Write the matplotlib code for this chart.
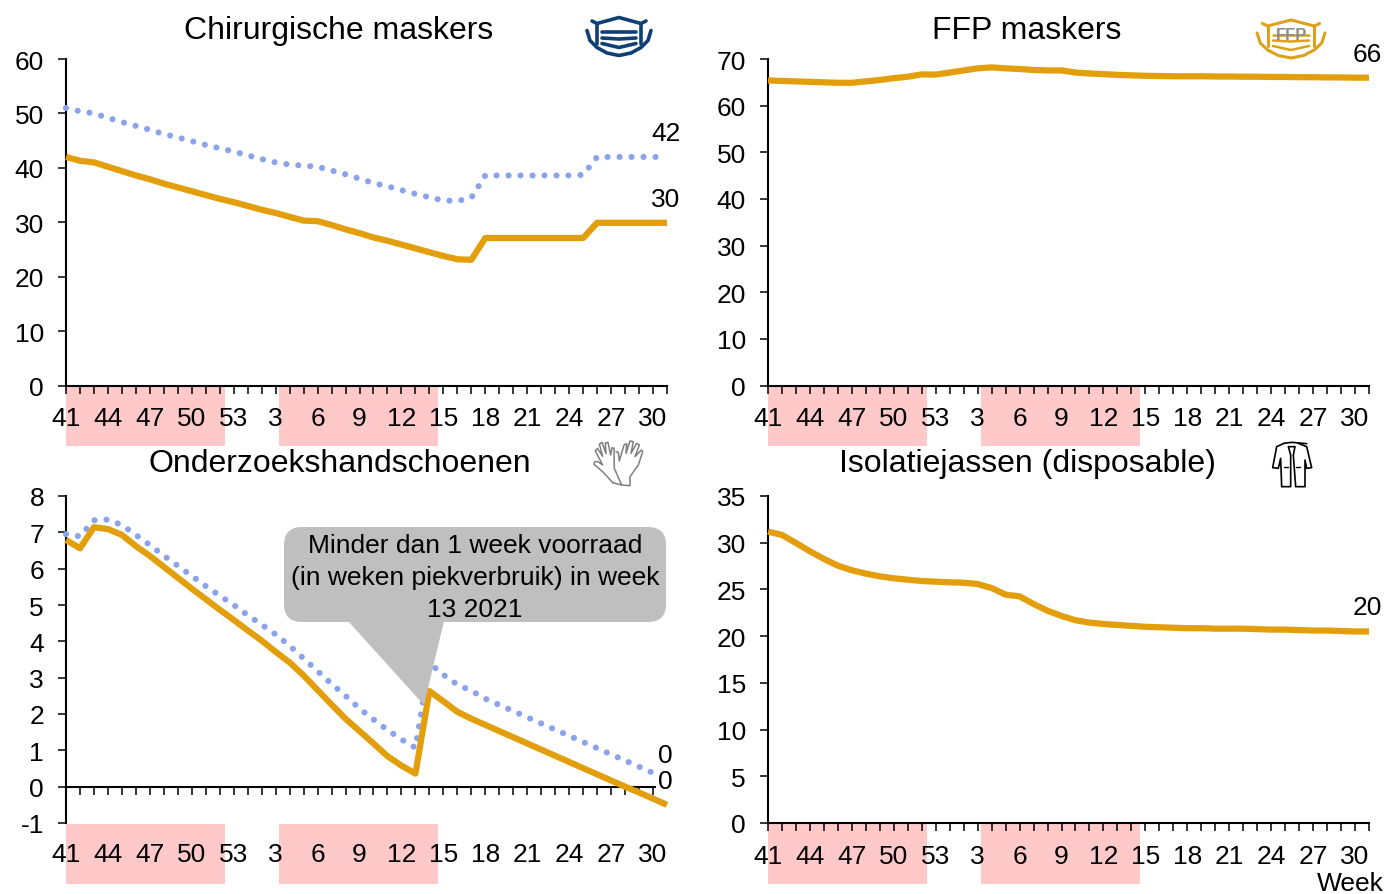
import matplotlib
matplotlib.use("Agg")
import matplotlib.pyplot as plt
from matplotlib.lines import Line2D
from matplotlib.patches import Rectangle, Polygon, FancyBboxPatch
from matplotlib.transforms import blended_transform_factory

plt.rcParams['font.family'] = ['Liberation Sans', 'DejaVu Sans']
plt.rcParams['axes.unicode_minus'] = False

W, H = 1388, 895

weeks = list(range(41, 54)) + list(range(1, 32))
tick_every = 3
pink_spans = [(0, 11.37), (15.24, 26.6)]

chir_actual = [42, 41.3, 41, 40.2, 39.4, 38.6, 37.9, 37.1, 36.4, 35.7, 35, 34.3, 33.7, 33, 32.3, 31.7,
               31, 30.3, 30.2, 29.5, 28.7, 28, 27.2, 26.6, 25.9, 25.2, 24.5, 23.8, 23.2, 23.1, 27.1,
               27.1, 27.1, 27.1, 27.1, 27.1, 27.1, 27.1, 29.9, 29.9, 29.9, 29.9, 29.9, 29.9]
chir_scen = [51, 50.4, 50, 49.2, 48.4, 47.7, 47, 46.2, 45.6, 44.9, 44.2, 43.6, 43, 42.3, 41.6, 41,
             40.6, 40.4, 40.2, 39.5, 38.8, 38, 37.2, 36.6, 35.9, 35.2, 34.6, 34, 33.9, 34.5, 38.6,
             38.6, 38.6, 38.6, 38.6, 38.6, 38.6, 38.7, 42, 42, 42, 42, 42, 42]
ffp_actual = [65.4, 65.3, 65.2, 65.1, 65.0, 64.9, 64.9, 65.2, 65.5, 65.9, 66.2, 66.7, 66.65, 67.1, 67.55,
              68.0, 68.2, 68.0, 67.85, 67.65, 67.55, 67.55, 67.1, 66.9, 66.75, 66.6, 66.5, 66.4, 66.35,
              66.3, 66.3, 66.3, 66.25, 66.25, 66.2, 66.2, 66.15, 66.15, 66.1, 66.1, 66.05, 66.05, 66.0, 66.0]
glove_actual = [6.79, 6.56, 7.14, 7.09, 6.93, 6.62, 6.35, 6.05, 5.75, 5.45, 5.16, 4.87, 4.59, 4.30, 4.02,
                3.71, 3.42, 3.06, 2.66, 2.26, 1.87, 1.53, 1.19, 0.84, 0.58, 0.36, 2.63, 2.35, 2.06, 1.87,
                1.70, 1.53, 1.36, 1.19, 1.02, 0.85, 0.68, 0.51, 0.34, 0.17, 0.0, -0.16, -0.33, -0.5]
glove_scen = [6.95, 6.89, 7.33, 7.35, 7.2, 6.93, 6.65, 6.36, 6.08, 5.8, 5.52, 5.26, 5.0, 4.72, 4.46, 4.19,
              3.88, 3.53, 3.18, 2.83, 2.5, 2.15, 1.85, 1.56, 1.30, 1.07, 3.4, 3.08, 2.81, 2.64,
              2.42, 2.25, 2.08, 1.91, 1.74, 1.57, 1.4, 1.23, 1.06, 0.89, 0.72, 0.55, 0.38, 0.21]
iso_actual = [31.18, 30.83, 29.97, 29.08, 28.26, 27.54, 27.05, 26.69, 26.4, 26.19, 26.04, 25.9, 25.83, 25.76,
              25.72, 25.58, 25.15, 24.44, 24.26, 23.44, 22.72, 22.16, 21.7, 21.45, 21.3, 21.2, 21.1, 21.0,
              20.95, 20.9, 20.85, 20.85, 20.8, 20.8, 20.8, 20.75, 20.7, 20.7, 20.65, 20.6, 20.6, 20.55, 20.5, 20.5]

callout_lines = ["Minder dan 1 week voorraad", "(in weken piekverbruik) in week", "13 2021"]

ORANGE = '#E39E0C'
BLUE = '#8BA2EC'
PINK = '#FFC9C9'
GRAY = '#BFBFBF'
NAVY = '#0F3F73'
GOLD = '#DDA11A'
FS = 19

fig = plt.figure(figsize=(W / 100, H / 100), dpi=100, facecolor='white')


def make_axes(x0, x1, ytop, ybot, ylim, yticks, xpad, actual, scen, labels, label_boxes=False):
    ax = fig.add_axes([x0 / W, 1 - ybot / H, (x1 - x0) / W, (ybot - ytop) / H])
    ax.patch.set_alpha(0)
    n = len(actual)
    idx = list(range(n))
    ax.set_xlim(0, n - 1)
    ax.set_ylim(*ylim)
    for s in ('top', 'right'):
        ax.spines[s].set_visible(False)
    ax.spines['left'].set_linewidth(1.5)
    ax.spines['bottom'].set_linewidth(1.5)
    ax.spines['bottom'].set_position(('data', 0))
    ax.set_yticks(yticks)
    ax.tick_params(axis='y', direction='out', length=5.8, width=1.1, labelsize=FS, pad=10.0)
    ax.set_xticks(idx)
    ax.set_xticklabels([str(w) if i % tick_every == 0 else '' for i, w in enumerate(weeks)])
    ax.tick_params(axis='x', direction='out', length=5.8, width=1.1, labelsize=FS, pad=xpad)
    tr = blended_transform_factory(ax.transData, ax.transAxes)
    h = ybot - ytop
    for a, b in pink_spans:
        ax.add_patch(Rectangle((a, -60.5 / h), b - a, 59.5 / h, transform=tr, facecolor=PINK,
                               edgecolor='none', clip_on=False, zorder=0.5))
    if scen is not None:
        ax.plot(idx, scen, color=BLUE, lw=4.4, linestyle=(0, (0.01, 1.95)),
                dash_capstyle='round', clip_on=False, zorder=3)
    ax.plot(idx, actual, color=ORANGE, lw=4.5, solid_capstyle='butt', solid_joinstyle='round',
            clip_on=False, zorder=4)
    series = [actual] if scen is None else [scen, actual]
    for s, lab in zip(series, labels):
        bbox = dict(facecolor='white', edgecolor='none', pad=1.5) if label_boxes else None
        ax.annotate(lab, xy=(n - 1, s[-1]), xytext=(-1, 17.3), textcoords='offset points',
                    ha='center', va='center', fontsize=FS, zorder=6, bbox=bbox, annotation_clip=False)
    return ax


ax1 = make_axes(66, 667, 60, 386.5, (0, 60), range(0, 61, 10), 9.0, chir_actual, chir_scen, ['42', '30'])
ax2 = make_axes(768, 1369, 60, 386.5, (0, 70), range(0, 71, 10), 9.0, ffp_actual, None, ['66'])
ax3 = make_axes(66, 667, 497, 824, (-1, 8), range(-1, 9), 34.0, glove_actual, glove_scen, ['0', '0'], label_boxes=True)
ax4 = make_axes(768, 1369, 497, 824, (0, 35), range(0, 36, 5), 9.0, iso_actual, None, ['20'])

titles = [("Chirurgische maskers", 339, 31), ("FFP maskers", 1027, 31),
          ("Onderzoekshandschoenen", 340, 464), ("Isolatiejassen (disposable)", 1027, 464)]
for t, x, y in titles:
    fig.text(x / W, 1 - y / H, t, fontsize=23, ha='center', va='center')
fig.text(1350 / W, 1 - 884.5 / H, "Week", fontsize=FS, ha='center', va='center')

# callout
box = FancyBboxPatch((284 + 18, H - 623 + 18), 382 - 36, 95 - 36, boxstyle="round,pad=18,rounding_size=18",
                     transform=None, facecolor=GRAY, edgecolor='none', clip_on=False, zorder=5)
fig.add_artist(box)
tip = Polygon([(348, H - 622), (444, H - 622), (424, H - 706)], closed=True, transform=None,
              facecolor=GRAY, edgecolor='none', zorder=5)
fig.add_artist(tip)
for line, y in zip(callout_lines, (546, 578, 610)):
    fig.text(475 / W, 1 - y / H, line, fontsize=FS, ha='center', va='center', zorder=6)


def poly(points, color, lw, ox=0.0, oy=0.0, sx=1.0, sy=1.0):
    xs = [(ox + sx * p[0]) / W for p in points]
    ys = [1 - (oy + sy * p[1]) / H for p in points]
    fig.add_artist(Line2D(xs, ys, color=color, lw=lw, solid_capstyle='round',
                          solid_joinstyle='round', transform=fig.transFigure))


def mask(cx, top, sx, color, lw, slw):
    o = dict(ox=cx, oy=top, sx=sx)
    poly([(-27, 3.5), (-22, 6), (0, 0), (22, 6), (27, 3.5)], color, lw, **o)
    poly([(-22, 6), (-22, 26)], color, lw, **o)
    poly([(22, 6), (22, 26)], color, lw, **o)
    poly([(-32, 13), (-29, 23), (-22, 30), (-12, 35.5), (0, 38), (12, 35.5), (22, 30), (29, 23), (32, 13)], color, lw, **o)
    poly([(-17, 14.5), (17, 14.5)], color, slw, **o)
    poly([(-17, 20.5), (0, 21.5), (17, 20.5)], color, slw, **o)
    poly([(-17, 26), (0, 30), (17, 26)], color, slw, **o)


mask(619, 18.5, 1.0, NAVY, 2.6, 2.6)
mask(1291, 21, 1.06, GOLD, 2.2, 1.8)
fig.text(1292 / W, 1 - 35 / H, "FFP", fontsize=12, color='#8C8C8C', fontweight='bold',
         ha='center', va='center', zorder=6)

# gloves icon
G = dict(ox=580, oy=436, sx=1 / 3, sy=1 / 3)
poly([(98, 143), (70, 112), (42, 88), (44, 80), (54, 80), (68, 90), (46, 48), (52, 40), (68, 64), (58, 28),
      (66, 22), (78, 56), (76, 24), (84, 22), (92, 60), (96, 38), (102, 40), (103, 100), (125, 150), (98, 143)],
     '#7F7F7F', 1.1, **G)
poly([(108, 50), (115, 52), (118, 78), (132, 30), (140, 26), (138, 55), (150, 18), (160, 20), (153, 55),
      (170, 25), (178, 30), (165, 65), (184, 45), (188, 50), (175, 90), (150, 125), (150, 152), (125, 150)],
     '#7F7F7F', 1.1, **G)

# coat icon
C = dict(ox=1260, oy=436, sx=1 / 3, sy=1 / 3)
poly([(72, 25), (50, 35), (38, 98), (55, 100), (62, 70), (65, 155), (92, 155), (92, 60), (85, 35), (105, 35),
      (100, 60), (107, 155), (135, 155), (135, 75), (140, 100), (155, 98), (140, 35), (115, 25)], 'black', 1.2, **C)
poly([(72, 25), (95, 22), (140, 26)], 'black', 1.2, **C)
poly([(72, 95), (85, 95)], 'black', 1.0, **C)
poly([(108, 95), (120, 95)], 'black', 1.0, **C)

fig.savefig('out.png', dpi=100)
